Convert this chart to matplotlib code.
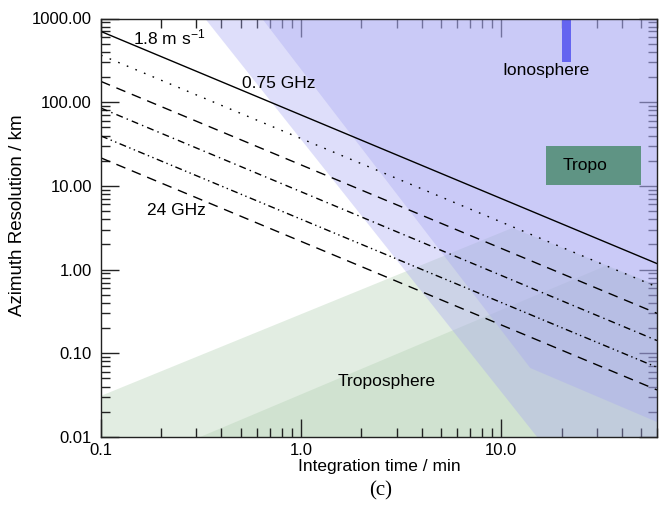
import matplotlib
matplotlib.use("Agg")
import matplotlib.pyplot as plt
from matplotlib.ticker import LogLocator, FixedLocator, FormatStrFormatter, NullFormatter

plt.rcParams['font.family'] = ['Liberation Sans', 'DejaVu Sans']
plt.rcParams['mathtext.fontset'] = 'custom'
plt.rcParams['mathtext.rm'] = 'Liberation Sans'
plt.rcParams['mathtext.it'] = 'Liberation Sans'

# ---- data ----
t_range = [0.1, 60.0]                                 # integration time, min
line_start = [700, 365, 177, 85, 39.5, 21.6]          # resolution (km) at t = 0.1 min
line_end = [1.18, 0.62, 0.30, 0.142, 0.068, 0.0365]   # resolution (km) at t = 60 min

iono_light_x = [0.331, 15.1, 60, 60]
iono_light_y = [1000, 0.01, 0.01, 1000]
iono_dark_x = [0.638, 13.96, 60, 60]
iono_dark_y = [1000, 0.0667, 0.0151, 1000]
tropo_light_x = [0.1, 11.35, 60, 60, 0.1]
tropo_light_y = [0.031, 3.14, 0.65, 0.01, 0.01]
tropo_dark_x = [0.313, 33.0, 60, 60]
tropo_dark_y = [0.01, 1.1, 0.65, 0.01]

tropo_box_x = [16.8, 50.0]
tropo_box_y = [10.3, 30.0]
iono_bar_x = [20.2, 22.4]
iono_bar_y = [302, 1000]

yticks = [0.01, 0.1, 1, 10, 100, 1000]
xticks = [0.1, 1.0, 10.0]

# ---- styles ----
dash_styles = ['-', (0, (1.2, 5.5)), (0, (7, 5)), (0, (5, 3, 1, 3)),
               (0, (5, 2.5, 1, 2.5, 1, 2.5)), (0, (7, 5))]

fig = plt.figure(figsize=(6.6, 5.08), dpi=100)
ax = fig.add_axes([101/660, 1-437/508, 556/660, 418.5/508])
ax.set_xscale('log')
ax.set_yscale('log')
ax.set_xlim(t_range[0], t_range[1])
ax.set_ylim(0.01, 1000)

green = '#b3d2b3'
lav = '#a8a8f2'
ax.fill(tropo_light_x, tropo_light_y, color=green, alpha=0.38, lw=0, zorder=1)
ax.fill(tropo_dark_x, tropo_dark_y, color=green, alpha=0.38, lw=0, zorder=1)
ax.fill(iono_light_x, iono_light_y, color=lav, alpha=0.37, lw=0, zorder=2)
ax.fill(iono_dark_x, iono_dark_y, color=lav, alpha=0.37, lw=0, zorder=2)

ax.fill([tropo_box_x[0], tropo_box_x[1], tropo_box_x[1], tropo_box_x[0]],
        [tropo_box_y[0], tropo_box_y[0], tropo_box_y[1], tropo_box_y[1]],
        color='#5f9484', lw=0, zorder=3)
ax.fill([iono_bar_x[0], iono_bar_x[1], iono_bar_x[1], iono_bar_x[0]],
        [iono_bar_y[0], iono_bar_y[0], iono_bar_y[1], iono_bar_y[1]],
        color='#6464f0', lw=0, zorder=3)

for s, e, ls in zip(line_start, line_end, dash_styles):
    ax.plot(t_range, [s, e], color='black', lw=1.0, linestyle=ls, zorder=4)

fs = 12.5
ax.text(0.1445, 601, '1.8 m s$^{\\mathregular{-1}}$', fontsize=fs, ha='left', va='center', zorder=5)
ax.text(0.507, 169, '0.75 GHz', fontsize=fs, ha='left', va='center', zorder=5)
ax.text(0.170, 5.15, '24 GHz', fontsize=fs, ha='left', va='center', zorder=5)
ax.text(16.7, 236, 'Ionosphere', fontsize=fs, ha='center', va='center', zorder=5)
ax.text(26.2, 17.3, 'Tropo', fontsize=fs, ha='center', va='center', zorder=5)
ax.text(2.68, 0.0458, 'Troposphere', fontsize=fs, ha='center', va='center', zorder=5)

ax.xaxis.set_major_locator(FixedLocator(xticks))
ax.xaxis.set_major_formatter(FormatStrFormatter('%.1f'))
ax.xaxis.set_minor_locator(LogLocator(base=10, subs=range(2, 10)))
ax.xaxis.set_minor_formatter(NullFormatter())
ax.yaxis.set_major_locator(FixedLocator(yticks))
ax.yaxis.set_major_formatter(FormatStrFormatter('%.2f'))
ax.yaxis.set_minor_locator(LogLocator(base=10, subs=range(2, 10)))
ax.yaxis.set_minor_formatter(NullFormatter())

ax.tick_params(which='both', direction='in', top=True, right=True, width=1.0,
               color='#222222', labelsize=12)
ax.tick_params(which='major', length=13)
ax.tick_params(which='minor', length=6.5)
ax.tick_params(axis='y', which='major', pad=6.5)
ax.tick_params(axis='x', which='major', pad=4)
for sp in ax.spines.values():
    sp.set_linewidth(1.0)
    sp.set_color('#222222')
    sp.set_zorder(6)

ax.set_xlabel('Integration time / min', fontsize=12.5)
ax.xaxis.set_label_coords(0.5, -0.052)
ax.set_ylabel('Azimuth Resolution / km', fontsize=13.5)
ax.yaxis.set_label_coords(-0.135, 0.53)

fig.text(381/660, 1-491/508, '(c)', fontsize=15, family='Liberation Serif',
         ha='center', va='center')

fig.savefig('out.png', dpi=100)
